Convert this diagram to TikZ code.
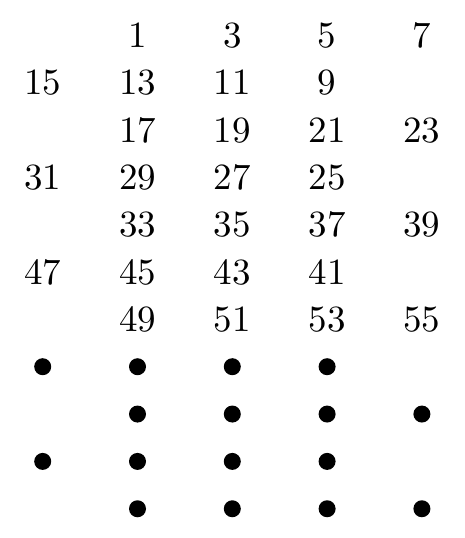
\documentclass[tikz,border=0pt]{standalone}
\usepackage{graphicx}
\newcommand{\bignum}[1]{\scalebox{3.7}{\fontsize{10}{12}\selectfont #1}}
\begin{document}
\begin{tikzpicture}[x=1pt,y=-1pt,
  num/.style={inner sep=0pt,anchor=base},
  dot/.style={circle,fill=black,inner sep=0pt,minimum size=17pt}]
\useasboundingbox (0,0) rectangle (465,538);
\foreach \c/\v in {1/1,2/3,3/5,4/7}{\node[num] (n0-\c) at ({42.7+94.8*\c},47.3) {\bignum{\v}};}
\foreach \c/\v in {0/15,1/13,2/11,3/9}{\node[num] (n1-\c) at ({42.7+94.8*\c},94.65) {\bignum{\v}};}
\foreach \c/\v in {1/17,2/19,3/21,4/23}{\node[num] (n2-\c) at ({42.7+94.8*\c},142.0) {\bignum{\v}};}
\foreach \c/\v in {0/31,1/29,2/27,3/25}{\node[num] (n3-\c) at ({42.7+94.8*\c},189.35) {\bignum{\v}};}
\foreach \c/\v in {1/33,2/35,3/37,4/39}{\node[num] (n4-\c) at ({42.7+94.8*\c},236.7) {\bignum{\v}};}
\foreach \c/\v in {0/47,1/45,2/43,3/41}{\node[num] (n5-\c) at ({42.7+94.8*\c},284.05) {\bignum{\v}};}
\foreach \c/\v in {1/49,2/51,3/53,4/55}{\node[num] (n6-\c) at ({42.7+94.8*\c},331.4) {\bignum{\v}};}
\foreach \c in {0,1,2,3}{\node[dot] (d7-\c) at ({42.7+94.8*\c},366.7) {};}
\foreach \c in {1,2,3,4}{\node[dot] (d8-\c) at ({42.7+94.8*\c},414.05) {};}
\foreach \c in {0,1,2,3}{\node[dot] (d9-\c) at ({42.7+94.8*\c},461.4) {};}
\foreach \c in {1,2,3,4}{\node[dot] (d10-\c) at ({42.7+94.8*\c},508.75) {};}
\end{tikzpicture}
\end{document}
